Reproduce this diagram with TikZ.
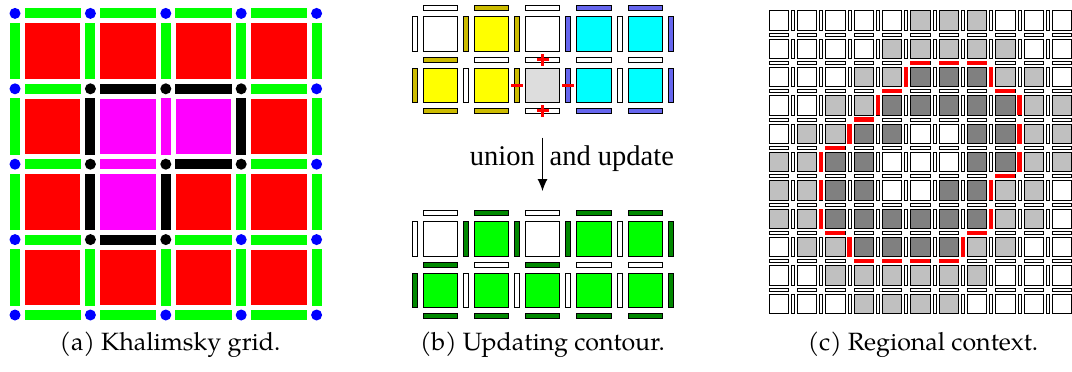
\documentclass[tikz,border=0pt]{standalone}
\usepackage{fontspec}
\setmainfont{Liberation Serif}
\newfontfamily\capfont{TeX Gyre Pagella}
\usetikzlibrary{arrows.meta}
\definecolor{Kg}{HTML}{00FF00}
\definecolor{Kr}{HTML}{FF0000}
\definecolor{Kb}{HTML}{0000FF}
\definecolor{Km}{HTML}{FF00FF}
\definecolor{Kk}{HTML}{000000}
\definecolor{Uw}{HTML}{FFFFFF}
\definecolor{Uy}{HTML}{FFFF00}
\definecolor{Uo}{HTML}{CCBB00}
\definecolor{Uc}{HTML}{00FFFF}
\definecolor{Ub}{HTML}{6666EE}
\definecolor{Us}{HTML}{DDDDDD}
\definecolor{Ug}{HTML}{00FF00}
\definecolor{Ud}{HTML}{008800}
\definecolor{Rc0}{HTML}{FFFFFF}
\definecolor{Rc1}{HTML}{C0C0C0}
\definecolor{Rc2}{HTML}{808080}
\tikzset{
  ubox/.style={draw=black, line width=0.9pt},
  rbox/.style={draw=black, line width=0.8pt},
  cut/.style={fill=Kr},
  cutmark/.style={draw=Kr, line width=3pt},
  link/.style={-{Latex[length=12pt,width=10pt]}, line width=1pt},
  lbl/.style={font=\fontsize{28.5}{31}\selectfont, inner sep=0pt},
  captext/.style={font=\capfont\fontsize{25}{28}\selectfont, inner sep=0pt},
}
\newcommand{\Usq}[3]{\filldraw[ubox, fill=U#3] (#1+0.166,#2+0.166) rectangle (#1+0.834,#2+0.834);}
\newcommand{\Uhe}[3]{\filldraw[ubox, fill=U#3] (#1+0.166,#2-0.049) rectangle (#1+0.834,#2+0.049);}
\newcommand{\Uve}[3]{\filldraw[ubox, fill=U#3] (#1-0.049,#2+0.166) rectangle (#1+0.049,#2+0.834);}
\newcommand{\ugrid}[3]{%
  \foreach \j/\row in {#1}{\foreach \c [count=\i from 0] in \row {\Usq{\i}{\j}{\c}}}
  \foreach \j/\row in {#2}{\foreach \c [count=\i from 0] in \row {\Uhe{\i}{\j}{\c}}}
  \foreach \j/\row in {#3}{\foreach \c [count=\i from 0] in \row {\Uve{\i}{\j}{\c}}}}
\begin{document}
\begin{tikzpicture}[x=1pt, y=-1pt]
  \useasboundingbox (0,0) rectangle (1072,372);
  % (a)
  \begin{scope}[shift={(15,13.4)}, x=75.4pt, y=-75.4pt]
    \foreach \j/\row in {0/{r,r,r,r},1/{r,m,m,r},2/{r,m,r,r},3/{r,r,r,r}}{%
      \foreach \c [count=\i from 0] in \row {\fill[fill=K\c] (\i+0.133,\j+0.133) rectangle (\i+0.867,\j+0.867);}}
    \foreach \j/\row in {0/{g,g,g,g},1/{g,k,k,g},2/{g,m,k,g},3/{g,k,g,g},4/{g,g,g,g}}{%
      \foreach \c [count=\i from 0] in \row {\fill[fill=K\c] (\i+0.126,\j-0.066) rectangle (\i+0.874,\j+0.066);}}
    \foreach \j/\row in {0/{g,g,g,g,g},1/{g,k,m,k,g},2/{g,k,k,g,g},3/{g,g,g,g,g}}{%
      \foreach \c [count=\i from 0] in \row {\fill[fill=K\c] (\i-0.066,\j+0.126) rectangle (\i+0.066,\j+0.874);}}
    \foreach \j/\row in {0/{b,b,b,b,b},1/{b,k,k,k,b},2/{b,k,k,k,b},3/{b,k,k,b,b},4/{b,b,b,b,b}}{%
      \foreach \c [count=\i from 0] in \row {\fill[fill=K\c] (\i,\j) circle (5.5pt);}}
  \end{scope}
  % (b)
  \begin{scope}[shift={(414.8,8.3)}, x=51.2pt, y=-51.2pt]
    \ugrid{0/{w,y,w,c,c},1/{y,y,s,c,c}}{0/{w,o,w,b,b},1/{o,w,w,w,w},2/{o,o,w,b,b}}{0/{w,o,o,b,w,b},1/{o,w,o,b,w,b}}
    \foreach \p in {(2.5,1),(2.5,2)}
      \draw[cutmark] \p ++(-6pt,0) -- ++(12pt,0) \p ++(0,-6pt) -- ++(0,12pt);
    \foreach \p in {(2,1.5),(3,1.5)}
      \draw[cutmark] \p ++(-6pt,0) -- ++(12pt,0);
  \end{scope}
  \begin{scope}[shift={(414.8,213.4)}, x=51.2pt, y=-51.2pt]
    \ugrid{0/{w,g,w,g,g},1/{g,g,g,g,g}}{0/{w,d,w,d,d},1/{d,w,d,w,w},2/{d,d,d,d,d}}{0/{w,d,d,d,w,d},1/{d,w,w,w,w,d}}
  \end{scope}
  \coordinate (ustart) at (542.5,137.5);
  \coordinate (uend) at (542.5,191);
  \draw[link] (ustart) -- (uend);
  \node[lbl, anchor=base east] (uleft) at (535,165.5) {union};
  \node[lbl, anchor=base west] (uright) at (549.5,165.5) {and update};
  % (c)
  \begin{scope}[shift={(764.5,6.2)}, x=28.33pt, y=-28.33pt]
    \foreach \j/\row in {0/{0,0,0,0,0,1,1,1,0,0,0},1/{0,0,0,0,1,1,1,1,1,0,0},2/{0,0,0,1,1,2,2,2,1,1,0},
        3/{0,0,1,1,2,2,2,2,2,1,1},4/{0,1,1,2,2,0,0,2,2,1,1},5/{1,1,2,2,0,0,0,2,2,1,1},
        6/{1,1,2,2,0,0,2,2,1,1,0},7/{1,1,2,2,2,2,2,2,1,1,0},8/{0,1,1,2,2,2,2,1,1,0,0},
        9/{0,0,1,1,1,1,1,1,0,0,0},10/{0,0,0,1,1,1,1,0,0,0,0}}{%
      \foreach \v [count=\i from 0] in \row {\filldraw[rbox, fill=Rc\v] (\i+0.159,\j+0.159) rectangle (\i+0.841,\j+0.841);}}
    \foreach \j in {0,...,10}{\foreach \i in {1,...,10}{%
      \filldraw[rbox, fill=white] (\i-0.053,\j+0.159) rectangle (\i+0.053,\j+0.841);}}
    \foreach \j in {1,...,10}{\foreach \i in {0,...,10}{%
      \filldraw[rbox, fill=white] (\i+0.159,\j-0.053) rectangle (\i+0.841,\j+0.053);}}
    \foreach \j/\i in {2/5,2/6,2/7,3/4,3/8,4/3,5/2,6/8,8/2,8/7,9/3,9/4,9/5,9/6}
      \fill[cut] (\i+0.145,\j-0.075) rectangle (\i+0.855,\j+0.075);
    \foreach \j/\i in {2/5,2/8,3/4,3/9,4/3,4/9,5/2,5/9,6/2,6/8,7/2,7/8,8/3,8/7}
      \fill[cut] (\i-0.075,\j+0.145) rectangle (\i+0.075,\j+0.855);
  \end{scope}
  % captions
  \node[captext, anchor=base] (capa) at (170,350.5) {(a) Khalimsky grid.};
  \node[captext, anchor=base] (capb) at (542.5,350.5) {(b) Updating contour.};
  \node[captext, anchor=base] (capc) at (923,350.5) {(c) Regional context.};
\end{tikzpicture}
\end{document}
